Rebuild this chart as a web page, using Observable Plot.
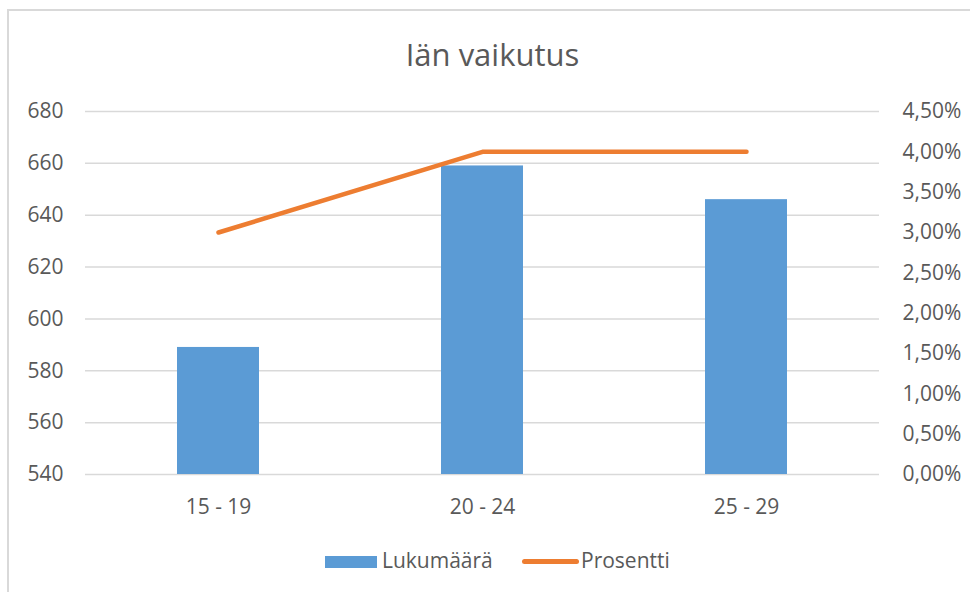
<!DOCTYPE html>
<html><head><meta charset="utf-8">
<script src="https://cdn.jsdelivr.net/npm/d3@7"></script>
<script src="https://cdn.jsdelivr.net/npm/@observablehq/plot@0.6"></script>
<style>
html,body{margin:0;padding:0;background:#fff;}
body{width:970px;height:592px;position:relative;overflow:hidden;font-family:"Open Sans",sans-serif;color:#595959;}
#frame{position:absolute;left:7px;top:9px;width:1000px;height:700px;border:2px solid #d9d9d9;box-sizing:border-box;}
#title{position:absolute;left:0;width:985px;text-align:center;top:39px;font-size:31px;line-height:31px;white-space:nowrap;}
#chart{position:absolute;left:0;top:80px;}
.lg{position:absolute;font-size:21px;line-height:21px;white-space:nowrap;}
</style>
</head><body>
<div id="frame"></div>
<div id="title">Iän vaikutus</div>
<div id="chart"></div>
<div id="legend"></div>
<script>
const ageGroups = ["15 - 19", "20 - 24", "25 - 29"];
const counts = [589, 659, 646];
const percents = [3.0, 4.0, 4.0];
const countTicks = [540, 560, 580, 600, 620, 640, 660, 680];
const percentTicks = [0, 0.5, 1, 1.5, 2, 2.5, 3, 3.5, 4, 4.5];
const seriesNames = ["Lukumäärä", "Prosentti"];

const data = ageGroups.map((a, i) => ({age: a, count: counts[i], pct: percents[i]}));
const yMin = countTicks[0], yMax = countTicks[countTicks.length - 1];
const pctToY = d3.scaleLinear().domain([percentTicks[0], percentTicks[percentTicks.length - 1]]).range([yMin, yMax]);
const fmtPct = v => pctToY.invert(v).toFixed(2).replace(".", ",") + "%";

const chart = Plot.plot({
  width: 970,
  height: 460,
  marginTop: 31,
  marginBottom: 66,
  marginLeft: 85,
  marginRight: 91,
  style: {fontFamily: "'Open Sans', sans-serif", fontSize: "21px", color: "#595959", background: "transparent", overflow: "visible"},
  x: {domain: ageGroups, paddingInner: 0.69, paddingOuter: 0.345},
  y: {domain: [yMin, yMax]},
  marks: [
    Plot.gridY(countTicks, {stroke: "#d9d9d9", strokeOpacity: 1, strokeWidth: 1.5}),
    Plot.barY(data, {x: "age", y1: () => yMin, y2: "count", fill: "#5b9bd5"}),
    Plot.line(data, {x: "age", y: d => pctToY(d.pct), stroke: "#ed7d31", strokeWidth: 4.5, strokeLinecap: "round", strokeLinejoin: "round"}),
    Plot.axisX({tickSize: 0, tickPadding: 25, label: null, fill: "#595959"}),
    Plot.axisY(countTicks, {anchor: "left", tickSize: 0, tickPadding: 22, label: null, fill: "#595959"}),
    Plot.axisY(percentTicks.map(p => pctToY(p)), {anchor: "right", tickSize: 0, tickPadding: 23, label: null, tickFormat: fmtPct, fill: "#595959", textAnchor: "start"})
  ]
});
document.getElementById("chart").appendChild(chart);

const legend = document.getElementById("legend");
legend.innerHTML = `
  <div style="position:absolute;left:325px;top:556px;width:52px;height:12px;background:#5b9bd5;"></div>
  <div class="lg" style="left:382px;top:550px;">${seriesNames[0]}</div>
  <div style="position:absolute;left:522px;top:559px;width:57px;height:4.5px;border-radius:3px;background:#ed7d31;"></div>
  <div class="lg" style="left:581px;top:550px;">${seriesNames[1]}</div>`;
</script>
</body></html>
